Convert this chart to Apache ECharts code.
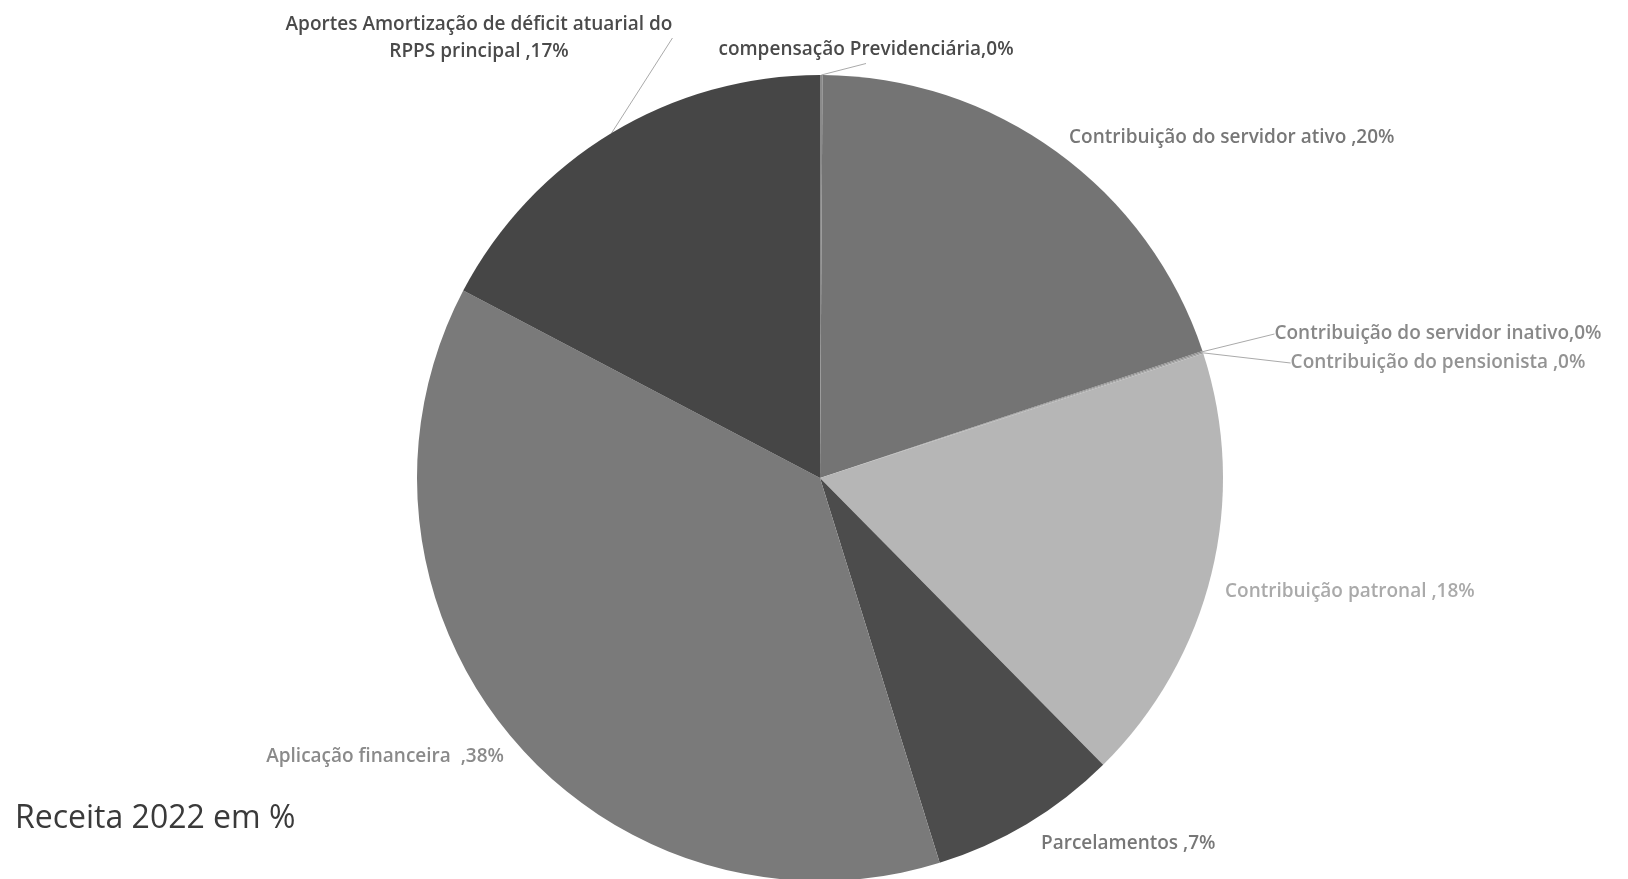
<!DOCTYPE html>
<html>
<head>
<meta charset="utf-8">
<script src="https://cdn.jsdelivr.net/npm/echarts@6/dist/echarts.min.js"></script>
<style>
html,body{margin:0;padding:0;background:#fff;}
#c{width:1628px;height:879px;}
</style>
</head>
<body>
<div id="c"></div>
<script>
// Data (percent of 2022 revenue), clockwise from 12 o'clock
const categories = [
  'compensação Previdenciária',
  'Contribuição do servidor ativo',
  'Contribuição do servidor inativo',
  'Contribuição do pensionista',
  'Contribuição patronal',
  'Parcelamentos',
  'Aplicação financeira',
  'Aportes Amortização de deficit atuarial do RPPS principal'
];
const values = [0.1, 19.8, 0.05, 0.05, 17.6, 7.6, 37.5, 17.3];
const labelTexts = [
  'compensação Previdenciária,0%',
  'Contribuição do servidor ativo ,20%',
  'Contribuição do servidor inativo,0%',
  'Contribuição do pensionista ,0%',
  'Contribuição patronal ,18%',
  'Parcelamentos ,7%',
  'Aplicação financeira  ,38%',
  'Aportes Amortização de déficit atuarial do\nRPPS principal ,17%'
];
const titleText = 'Receita 2022 em %';

// Styling / layout (not data)
const sliceColors = ['#8a8a8a', '#747474', '#8c8c8c', '#a0a0a0', '#b6b6b6', '#4c4c4c', '#7a7a7a', '#464646'];
const labelColors = ['#4a4a4a', '#777', '#888', '#939393', '#aaa', '#777', '#8a8a8a', '#4a4a4a'];
const showLine = [true, false, true, true, false, false, false, true];
const labelPos = [
  {x: 866, y: 50, align: 'center'},
  {x: 1069, y: 138, align: 'left'},
  {x: 1438, y: 334, align: 'center'},
  {x: 1438, y: 363, align: 'center'},
  {x: 1225, y: 592, align: 'left'},
  {x: 1041, y: 844, align: 'left'},
  {x: 504, y: 757, align: 'right'},
  {x: 479, y: 38, align: 'center'}
];

const chart = echarts.init(document.getElementById('c'));
chart.setOption({
  backgroundColor: '#fff',
  animation: false,
  title: {
    text: titleText,
    left: 10,
    top: 798,
    textStyle: {fontFamily: 'Open Sans', fontSize: 32, fontWeight: 'normal', color: '#3a3a3a'}
  },
  series: [{
    type: 'pie',
    center: [820, 478],
    radius: 403,
    startAngle: 90,
    clockwise: true,
    avoidLabelOverlap: false,
    minAngle: 0,
    itemStyle: {borderWidth: 0},
    label: {
      show: true,
      position: 'outside',
      fontFamily: 'Open Sans',
      fontSize: 19,
      fontWeight: 600,
      lineHeight: 27
    },
    labelLine: {show: true, length: 10, length2: 0, lineStyle: {color: '#aaa', width: 1}},
    labelLayout: function (params) {
      const p = labelPos[params.dataIndex];
      return {x: p.x, y: p.y, align: p.align, verticalAlign: 'middle'};
    },
    data: categories.map((name, i) => ({
      name: name,
      value: values[i],
      itemStyle: {color: sliceColors[i]},
      label: {formatter: labelTexts[i], color: labelColors[i]},
      labelLine: {show: showLine[i]}
    }))
  }]
});
</script>
</body>
</html>
